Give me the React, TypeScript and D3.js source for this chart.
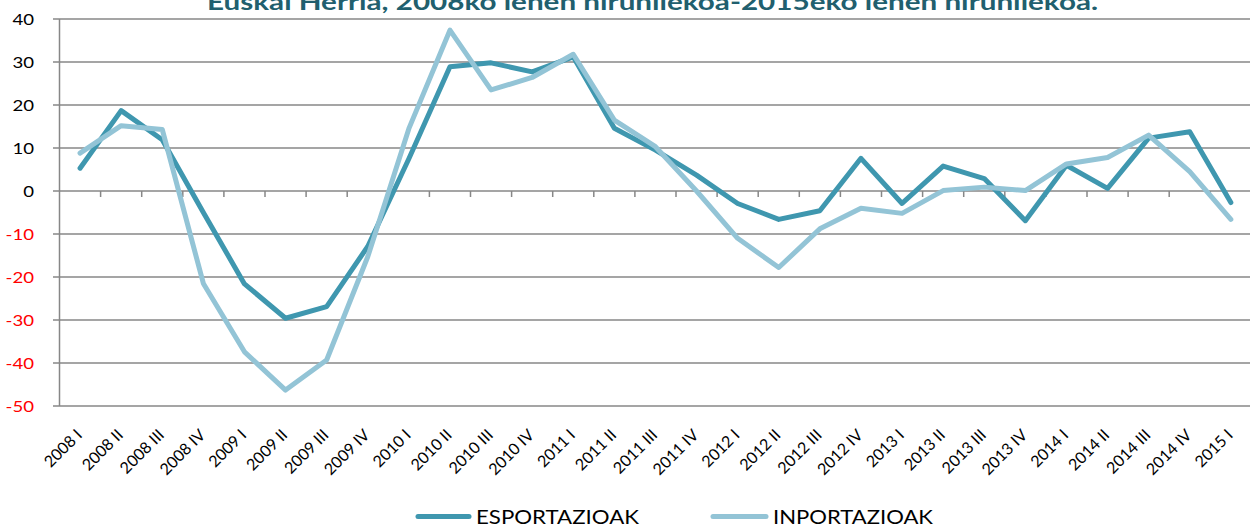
import React from 'react';
import * as d3 from 'd3';

// quarters on the x axis
const quarters = [
  '2008 I', '2008 II', '2008 III', '2008 IV',
  '2009 I', '2009 II', '2009 III', '2009 IV',
  '2010 I', '2010 II', '2010 III', '2010 IV',
  '2011 I', '2011 II', '2011 III', '2011 IV',
  '2012 I', '2012 II', '2012 III', '2012 IV',
  '2013 I', '2013 II', '2013 III', '2013 IV',
  '2014 I', '2014 II', '2014 III', '2014 IV',
  '2015 I',
];

const esportazioak = [
  5.3, 18.7, 11.9, -5.0,
  -21.6, -29.6, -26.9, -12.9,
  7.5, 28.9, 29.8, 27.7,
  31.2, 14.6, 9.5, 3.7,
  -2.9, -6.6, -4.6, 7.6,
  -2.9, 5.8, 2.9, -6.9,
  6.0, 0.6, 12.3, 13.8,
  -2.7,
];

const inportazioak = [
  8.8, 15.2, 14.3, -21.5,
  -37.4, -46.3, -39.3, -15.3,
  14.5, 37.4, 23.5, 26.4,
  31.8, 16.5, 10.3, 0.0,
  -11.0, -17.8, -8.8, -4.0,
  -5.2, 0.1, 0.9, 0.1,
  6.3, 7.8, 13.0, 4.5,
  -6.6,
];

const yTicks = [40, 30, 20, 10, 0, -10, -20, -30, -40, -50];
const seriesNames = ['ESPORTAZIOAK', 'INPORTAZIOAK'];
const titleText = 'Euskal Herria, 2008ko lehen hiruhilekoa-2015eko lehen hiruhilekoa.';

const W = 1250;
const H = 526;
const FONT = 'Lato, "Open Sans", sans-serif';
const STRETCH = 1.2; // the original picture is widened a bit
const DARK = '#3f97af';
const LIGHT = '#93c4d6';
const GRID = '#878787';

export default function App() {
  const x = d3.scaleBand<string>().domain(quarters).range([59.5, 1251.4]);
  const y = d3.scaleLinear().domain([-50, 40]).range([406, 19]);
  const bw = x.bandwidth();
  const cx = (q: string) => (x(q) ?? 0) + bw / 2;

  const line = d3
    .line<number>()
    .x((_, i) => cx(quarters[i]))
    .y((d) => y(d));

  const left = x.range()[0];

  return (
    <svg
      width={W}
      height={H}
      style={{ position: 'absolute', left: 0, top: 0, background: '#fff' }}
      fontFamily={FONT}
    >
      {/* title, cut at the top as in the original */}
      <text
        x={207}
        y={10}
        fontSize={23}
        fontWeight="bold"
        fill="#215f6e"
        textLength={891}
        lengthAdjust="spacingAndGlyphs"
      >
        {titleText}
      </text>

      {/* grid */}
      {yTicks.map((t) => (
        <line key={t} x1={53} x2={W} y1={y(t)} y2={y(t)} stroke={GRID} strokeWidth={1.5} />
      ))}
      <line x1={left} x2={left} y1={y(40)} y2={y(-50)} stroke={GRID} strokeWidth={1.5} />

      {/* ticks on the zero line, between categories */}
      {quarters.slice(1).map((q) => (
        <line
          key={q}
          x1={x(q)}
          x2={x(q)}
          y1={y(0)}
          y2={y(0) + 6}
          stroke={GRID}
          strokeWidth={1.5}
        />
      ))}

      {/* y labels */}
      {yTicks.map((t) => (
        <text
          key={t}
          transform={`translate(34,${y(t) + 5.5}) scale(${STRETCH},1)`}
          textAnchor="end"
          fontSize={15.5}
          fill={t < 0 ? '#ff0000' : '#000'}
        >
          {t}
        </text>
      ))}

      {/* x labels */}
      {quarters.map((q) => (
        <text
          key={q}
          transform={`translate(${cx(q) + 3},436) rotate(-45)`}
          textAnchor="end"
          fontSize={16}
          fill="#000"
        >
          {q}
        </text>
      ))}

      {/* series */}
      <path
        d={line(esportazioak) ?? ''}
        fill="none"
        stroke={DARK}
        strokeWidth={5}
        strokeLinejoin="round"
        strokeLinecap="round"
      />
      <path
        d={line(inportazioak) ?? ''}
        fill="none"
        stroke={LIGHT}
        strokeWidth={5}
        strokeLinejoin="round"
        strokeLinecap="round"
      />

      {/* legend */}
      <line x1={418} x2={469} y1={516.5} y2={516.5} stroke={DARK} strokeWidth={5} strokeLinecap="round" />
      <text x={476} y={523.5} fontSize={20} fill="#000" textLength={163} lengthAdjust="spacingAndGlyphs">
        {seriesNames[0]}
      </text>
      <line x1={713} x2={766} y1={516.5} y2={516.5} stroke={LIGHT} strokeWidth={5} strokeLinecap="round" />
      <text x={773} y={523.5} fontSize={20} fill="#000" textLength={160} lengthAdjust="spacingAndGlyphs">
        {seriesNames[1]}
      </text>
    </svg>
  );
}
